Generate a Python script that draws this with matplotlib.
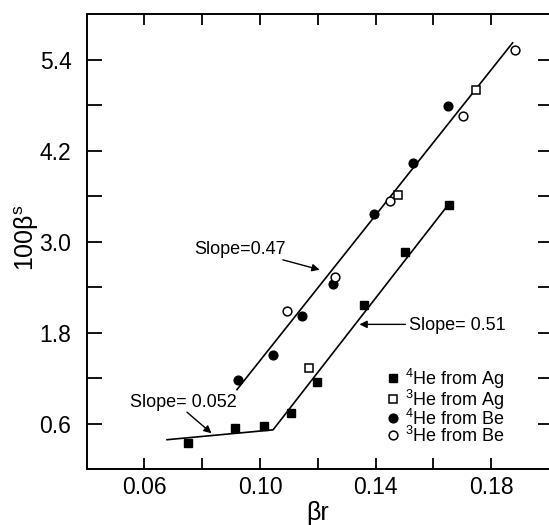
import matplotlib
matplotlib.use("Agg")
import matplotlib.pyplot as plt

plt.rcParams['font.family'] = ['Liberation Sans', 'DejaVu Sans']
plt.rcParams['mathtext.fontset'] = 'custom'
plt.rcParams['mathtext.rm'] = 'Liberation Sans'
plt.rcParams['mathtext.it'] = 'Liberation Sans:italic'

# datos (beta_r, 100*beta_s)
he4_ag_x = [0.0749, 0.0912, 0.1013, 0.1106, 0.1198, 0.1361, 0.1500, 0.1654]
he4_ag_y = [0.35, 0.55, 0.57, 0.74, 1.15, 2.16, 2.86, 3.48]
he3_ag_x = [0.1170, 0.1476, 0.1749]
he3_ag_y = [1.34, 3.62, 5.00]
he4_be_x = [0.0925, 0.1044, 0.1144, 0.1251, 0.1396, 0.1531, 0.1650]
he4_be_y = [1.18, 1.51, 2.02, 2.44, 3.36, 4.03, 4.79]
he3_be_x = [0.1094, 0.1261, 0.1451, 0.1704, 0.1884]
he3_be_y = [2.09, 2.54, 3.53, 4.66, 5.52]

# rectas de ajuste
fit_up_x = [0.0920, 0.1874]
fit_up_y = [1.05, 5.62]
fit_low_x = [0.0678, 0.1045, 0.1652]
fit_low_y = [0.39, 0.52, 3.49]

x_major = [0.06, 0.10, 0.14, 0.18]
x_minor = [0.08, 0.12, 0.16]
y_major = [0.6, 1.8, 3.0, 4.2, 5.4]
y_minor = [1.2, 2.4, 3.6, 4.8]

fig = plt.figure(figsize=(5.49, 5.25), dpi=100)
ax = fig.add_axes([86.7 / 549, 55.7 / 525, 462.3 / 549, 455.3 / 525])

ax.plot(fit_up_x, fit_up_y, color='black', lw=1.2)
ax.plot(fit_low_x, fit_low_y, color='black', lw=1.2)

ax.plot(he4_ag_x, he4_ag_y, 's', ms=5.5, mfc='black', mec='black', ls='none',
        label='$^{4}$He from Ag')
ax.plot(he3_ag_x, he3_ag_y, 's', ms=5.5, mfc='white', mec='black', mew=1.1, ls='none',
        label='$^{3}$He from Ag')
ax.plot(he4_be_x, he4_be_y, 'o', ms=6.3, mfc='black', mec='black', ls='none',
        label='$^{4}$He from Be')
ax.plot(he3_be_x, he3_be_y, 'o', ms=6.3, mfc='white', mec='black', mew=1.1, ls='none',
        label='$^{3}$He from Be')

# anotaciones de pendiente
arrow = dict(arrowstyle='-|>', color='black', lw=1.0, mutation_scale=11,
             shrinkA=0, shrinkB=0)
ax.text(0.0932, 2.90, 'Slope=0.47', fontsize=13, ha='center', va='center')
ax.annotate('', xy=(0.1206, 2.63), xytext=(0.1079, 2.76), arrowprops=arrow)
ax.text(0.1517, 1.90, 'Slope= 0.51', fontsize=13, ha='left', va='center')
ax.annotate('', xy=(0.1344, 1.91), xytext=(0.1503, 1.91), arrowprops=arrow)
ax.text(0.0734, 0.88, 'Slope= 0.052', fontsize=13, ha='center', va='center')
ax.annotate('', xy=(0.0832, 0.475), xytext=(0.0747, 0.753), arrowprops=arrow)

ax.set_xlim(0.04, 0.20)
ax.set_ylim(0.0, 6.0)
ax.set_xticks(x_major)
ax.set_xticks(x_minor, minor=True)
ax.set_xticklabels(['0.06', '0.10', '0.14', '0.18'])
ax.set_yticks(y_major)
ax.set_yticks(y_minor, minor=True)
ax.set_yticklabels(['0.6', '1.8', '3.0', '4.2', '5.4'])

ax.tick_params(axis='x', which='both', direction='in', top=True, length=8,
               width=1.3, labelsize=16.5, pad=5)
ax.tick_params(axis='y', which='both', direction='in', left=True, right=False,
               length=10.8, width=1.3, labelsize=16.5, pad=11)
sec = ax.secondary_yaxis('right')
sec.set_yticks(y_major + y_minor)
sec.tick_params(direction='in', length=8, width=1.3, labelright=False)
sec.spines['right'].set_visible(False)

for s in ['left', 'bottom', 'top']:
    ax.spines[s].set_linewidth(1.4)
ax.spines['right'].set_visible(False)

ax.set_xlabel('βr', fontsize=18)
ax.xaxis.set_label_coords(0.5, -0.07)
ax.set_ylabel('100β$^{\\mathregular{s}}$', fontsize=18)
ax.yaxis.set_label_coords(-0.099, 0.508)

ax.legend(loc='upper left', bbox_to_anchor=(0.651, 0.226), frameon=False,
          fontsize=13, handlelength=0.6, handletextpad=0.38, labelspacing=-0.17,
          borderpad=0, borderaxespad=0)

fig.savefig('out.png', dpi=100)
